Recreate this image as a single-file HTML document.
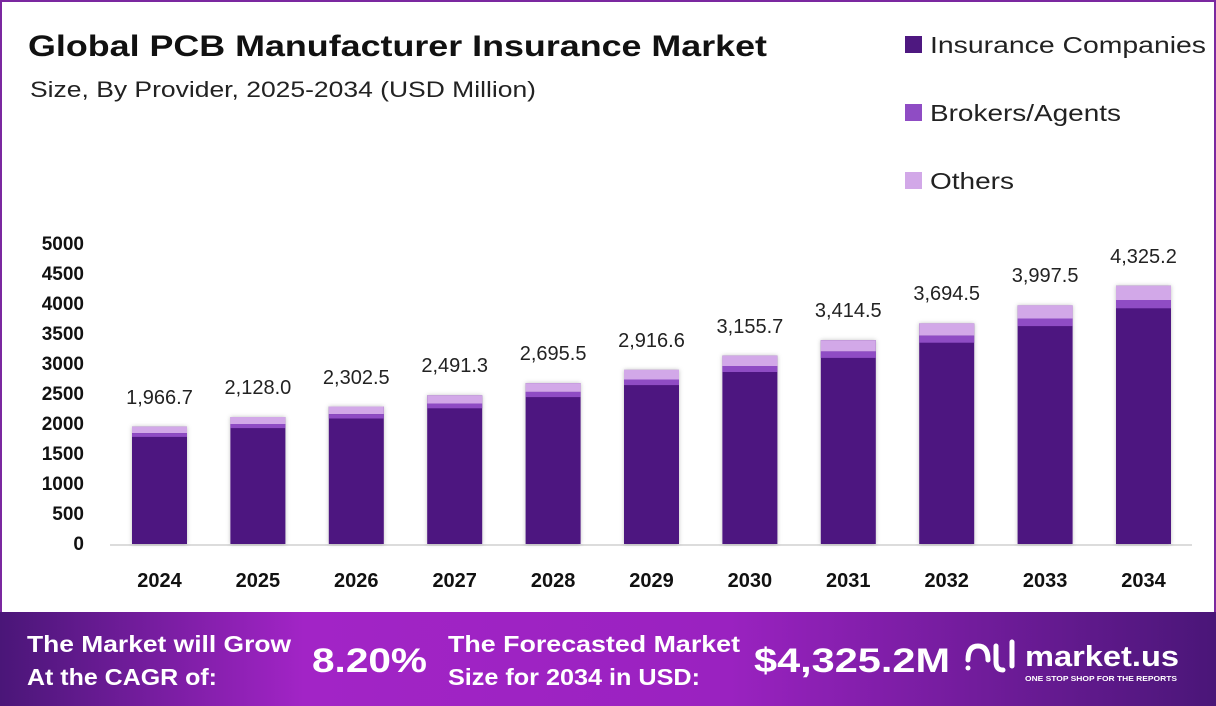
<!DOCTYPE html>
<html><head><meta charset="utf-8"><style>
html,body{margin:0;padding:0;background:#fff}
svg{display:block}
</style></head><body>
<svg width="1216" height="706" viewBox="0 0 1216 706" xmlns="http://www.w3.org/2000/svg" font-family="Liberation Sans, sans-serif">
<defs>
<linearGradient id="fg" x1="0" x2="1" y1="0" y2="0">
<stop offset="0" stop-color="#4a1678"/>
<stop offset="0.25" stop-color="#a224c6"/>
<stop offset="0.6" stop-color="#9a22c0"/>
<stop offset="1" stop-color="#4a1678"/>
</linearGradient>
<filter id="sh" x="-20%" y="-5%" width="140%" height="110%"><feDropShadow dx="0" dy="0" stdDeviation="2" flood-color="#000" flood-opacity="0.25"/></filter>
</defs>
<rect x="1" y="1" width="1214" height="704" fill="#fff" stroke="#7b28a0" stroke-width="2"/>
<text x="28" y="56" font-size="30" font-weight="bold" fill="#111" textLength="739" lengthAdjust="spacingAndGlyphs">Global PCB Manufacturer Insurance Market</text>
<text x="30" y="97" font-size="22" fill="#222" textLength="506" lengthAdjust="spacingAndGlyphs">Size, By Provider, 2025-2034 (USD Million)</text>
<rect x="905" y="36" width="17" height="17" fill="#4e1880"/>
<text x="930" y="53" font-size="23" fill="#222" textLength="276" lengthAdjust="spacingAndGlyphs">Insurance Companies</text>
<rect x="905" y="104" width="17" height="17" fill="#8f4cc4"/>
<text x="930" y="121" font-size="23" fill="#222" textLength="191" lengthAdjust="spacingAndGlyphs">Brokers/Agents</text>
<rect x="905" y="172" width="17" height="17" fill="#d2a8e8"/>
<text x="930" y="189" font-size="23" fill="#222" textLength="84" lengthAdjust="spacingAndGlyphs">Others</text>
<g font-size="19" font-weight="bold" fill="#111" text-anchor="end">
<text x="84" y="250">5000</text><text x="84" y="280">4500</text><text x="84" y="310">4000</text><text x="84" y="340">3500</text><text x="84" y="370">3000</text><text x="84" y="400">2500</text><text x="84" y="430">2000</text><text x="84" y="460">1500</text><text x="84" y="490">1000</text><text x="84" y="520">500</text><text x="84" y="550">0</text>
</g>
<line x1="110" y1="545" x2="1192" y2="545" stroke="#dcdcdc" stroke-width="2"/>
<g filter="url(#sh)" fill="#4e1880">
<rect x="132" y="426.6" width="55" height="117.4"/>
<rect x="230.4" y="417" width="55" height="127"/>
<rect x="328.8" y="406.5" width="55" height="137.5"/>
<rect x="427.2" y="395.3" width="55" height="148.7"/>
<rect x="525.6" y="383.1" width="55" height="160.9"/>
<rect x="624" y="369.9" width="55" height="174.1"/>
<rect x="722.4" y="355.6" width="55" height="188.4"/>
<rect x="820.8" y="340.2" width="55" height="203.8"/>
<rect x="919.2" y="323.4" width="55" height="220.6"/>
<rect x="1017.6" y="305.4" width="55" height="238.6"/>
<rect x="1116" y="285.8" width="55" height="258.2"/>
</g>
<g fill="#d2a8e8">
<rect x="132" y="426.6" width="55" height="6.5"/>
<rect x="230.4" y="417" width="55" height="7"/>
<rect x="328.8" y="406.5" width="55" height="7.6"/>
<rect x="427.2" y="395.3" width="55" height="8.2"/>
<rect x="525.6" y="383.1" width="55" height="8.8"/>
<rect x="624" y="369.9" width="55" height="9.6"/>
<rect x="722.4" y="355.6" width="55" height="10.4"/>
<rect x="820.8" y="340.2" width="55" height="11.2"/>
<rect x="919.2" y="323.4" width="55" height="12.2"/>
<rect x="1017.6" y="305.4" width="55" height="13.1"/>
<rect x="1116" y="285.8" width="55" height="14.2"/>
</g>
<g fill="#8f4cc4">
<rect x="132" y="433.1" width="55" height="3.8"/>
<rect x="230.4" y="424" width="55" height="4.1"/>
<rect x="328.8" y="414.1" width="55" height="4.4"/>
<rect x="427.2" y="403.5" width="55" height="4.8"/>
<rect x="525.6" y="391.9" width="55" height="5.2"/>
<rect x="624" y="379.5" width="55" height="5.6"/>
<rect x="722.4" y="366" width="55" height="6"/>
<rect x="820.8" y="351.4" width="55" height="6.5"/>
<rect x="919.2" y="335.6" width="55" height="7.1"/>
<rect x="1017.6" y="318.5" width="55" height="7.6"/>
<rect x="1116" y="300" width="55" height="8.3"/>
</g>
<g font-size="20" fill="#222" text-anchor="middle">
<text x="159.5" y="404">1,966.7</text>
<text x="257.9" y="394">2,128.0</text>
<text x="356.3" y="384">2,302.5</text>
<text x="454.7" y="372">2,491.3</text>
<text x="553.1" y="360">2,695.5</text>
<text x="651.5" y="347">2,916.6</text>
<text x="749.9" y="333">3,155.7</text>
<text x="848.3" y="317">3,414.5</text>
<text x="946.7" y="300">3,694.5</text>
<text x="1045.1" y="282">3,997.5</text>
<text x="1143.5" y="263">4,325.2</text>
</g>
<g font-size="20" font-weight="bold" fill="#111" text-anchor="middle">
<text x="159.5" y="587">2024</text><text x="257.9" y="587">2025</text><text x="356.3" y="587">2026</text><text x="454.7" y="587">2027</text><text x="553.1" y="587">2028</text><text x="651.5" y="587">2029</text><text x="749.9" y="587">2030</text><text x="848.3" y="587">2031</text><text x="946.7" y="587">2032</text><text x="1045.1" y="587">2033</text><text x="1143.5" y="587">2034</text>
</g>
<rect x="0" y="612" width="1216" height="94" fill="url(#fg)"/>
<g fill="#fff" font-weight="bold">
<text x="27" y="652" font-size="23" textLength="264" lengthAdjust="spacingAndGlyphs">The Market will Grow</text>
<text x="27" y="685" font-size="23" textLength="190" lengthAdjust="spacingAndGlyphs">At the CAGR of:</text>
<text x="312" y="672" font-size="34" textLength="115" lengthAdjust="spacingAndGlyphs">8.20%</text>
<text x="448" y="652" font-size="23" textLength="292" lengthAdjust="spacingAndGlyphs">The Forecasted Market</text>
<text x="448" y="685" font-size="23" textLength="252" lengthAdjust="spacingAndGlyphs">Size for 2034 in USD:</text>
<text x="754" y="672" font-size="34" textLength="196" lengthAdjust="spacingAndGlyphs">$4,325.2M</text>
<text x="1025" y="666" font-size="29" textLength="154" lengthAdjust="spacingAndGlyphs">market.us</text>
<text x="1025" y="681" font-size="7" textLength="152" lengthAdjust="spacingAndGlyphs">ONE STOP SHOP FOR THE REPORTS</text>
</g>
<g fill="none" stroke="#fff" stroke-width="5" stroke-linecap="round">
<path d="M968 660 q0 -14 10 -14 q10 0 10 14"/><path d="M996 646 v16 q0 8 7 8"/><path d="M1012 642 v24"/>
</g>
<circle cx="968" cy="668" r="2.5" fill="#fff"/>
</svg>
</body></html>
